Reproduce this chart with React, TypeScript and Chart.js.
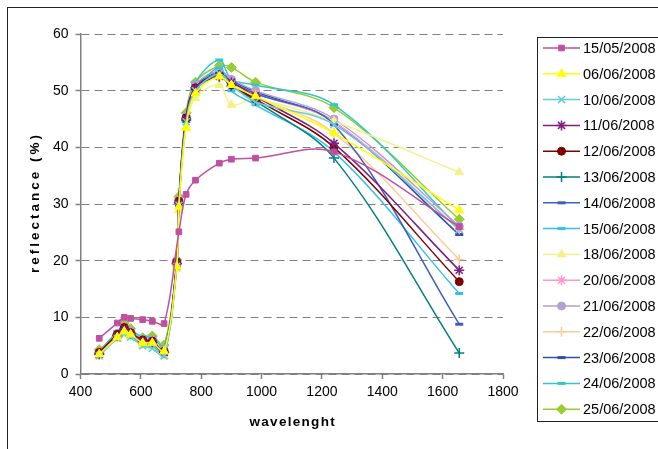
import React, { useEffect, useRef } from "react";
import { Chart, registerables } from "chart.js";
import { drawPoint } from "chart.js/helpers";

Chart.register(...registerables);

const wavelengths = [462, 522, 545, 566, 606, 638, 677, 719, 726, 750, 781, 860, 900, 980, 1240, 1655];

const labels = [
  "15/05/2008", "06/06/2008", "10/06/2008", "11/06/2008", "12/06/2008",
  "13/06/2008", "14/06/2008", "15/06/2008", "18/06/2008", "20/06/2008",
  "21/06/2008", "22/06/2008", "23/06/2008", "24/06/2008", "25/06/2008",
];

const xTitle = "wavelenght";
const yTitle = "reflectance (%)";

const s1505 = [6.3, 9.0, 10.0, 9.8, 9.6, 9.3, 8.9, null, 25.1, 31.7, 34.2, 37.2, 37.9, 38.1, 39.2, 26.0];
const s0606 = [3.5, 6.5, 7.5, 7.0, 5.5, 5.5, 4.0, 19.0, 29.5, 43.5, 49.5, 52.5, 51.0, 49.0, 42.5, 28.9];
const s1006 = [3.2, 6.3, 7.0, 6.5, 5.0, 4.5, 3.2, 19.0, 29.8, 44.5, 50.0, 53.0, 51.0, 48.0, 44.0, 25.5];
const s1106 = [3.5, 6.8, 8.0, 7.2, 5.8, 5.6, 3.8, 19.5, 30.2, 45.0, 50.5, 52.5, 51.5, 49.0, 40.7, 18.3];
const s1206 = [3.8, 7.0, 8.2, 7.3, 6.0, 5.8, 4.0, 19.8, 30.5, 45.2, 50.5, 52.8, 51.0, 48.5, 40.0, 16.3];
const s1306 = [3.6, 6.8, 7.8, 7.0, 5.6, 5.5, 3.8, 19.5, 30.2, 44.8, 50.2, 52.5, 50.8, 48.2, 38.1, 3.7];
const s1406 = [3.7, 7.0, 8.0, 7.2, 5.8, 5.6, 3.9, 19.6, 30.5, 45.0, 50.5, 53.0, 51.5, 49.5, 44.0, 8.8];
const s1506 = [3.5, 6.6, 7.5, 6.8, 5.3, 5.0, 3.5, 19.2, 30.0, 44.5, 49.8, 54.0, 50.0, 47.5, 39.2, 14.2];
const s1806 = [3.3, 6.2, 7.0, 6.5, 5.0, 4.8, 3.2, 18.5, 28.9, 43.4, 48.7, 51.0, 47.5, 48.5, 44.6, 35.6];
const s2006 = [3.6, 6.8, 7.8, 7.0, 5.6, 5.5, 3.8, 19.5, 30.0, 45.0, 50.5, 53.0, 51.5, 49.5, 44.5, 25.5];
const s2106 = [3.9, 7.2, 8.3, 7.5, 6.1, 6.0, 4.3, 20.0, 30.8, 45.5, 51.0, 53.5, 52.0, 50.0, 45.0, 26.1];
const s2206 = [3.4, 6.5, 7.5, 6.8, 5.3, 5.2, 3.6, 19.3, 30.0, 44.5, 50.0, 52.5, 51.0, 49.0, 42.5, 20.2];
const s2306 = [3.8, 7.1, 8.2, 7.4, 6.0, 5.8, 4.1, 19.8, 30.6, 45.3, 50.8, 53.2, 51.8, 49.8, 44.5, 24.6];
const s2406 = [4.0, 7.5, 8.5, 7.7, 6.6, 6.5, 4.8, 19.8, 30.8, 45.5, 51.5, 55.4, 52.0, 51.0, 47.5, 25.8];
const s2506 = [4.3, 7.0, 9.0, 8.0, 6.4, 6.7, 5.1, 20.1, 31.3, 46.1, 51.5, 54.4, 54.1, 51.5, 47.0, 27.3];

const seriesValues = [s1505, s0606, s1006, s1106, s1206, s1306, s1406, s1506, s1806, s2006, s2106, s2206, s2306, s2406, s2506];

const colors = [
  "#C04FA0", "#FFFF00", "#66CCDD", "#7F1F7F", "#800000",
  "#008080", "#3F5FBF", "#33C0F0", "#F5F08A", "#FF99CC",
  "#B3A0D0", "#FFCC99", "#3050A8", "#33C8C8", "#99CC33",
];

const markers = [
  "rect", "triangle", "crossRot", "star", "circle",
  "cross", "line", "line", "triangle", "star",
  "circle", "cross", "line", "line", "rectRot",
];

function markerStyle(m: string) {
  if (m === "line") return { radius: 4, borderWidth: 3 };
  if (m === "cross" || m === "crossRot" || m === "star") return { radius: 5, borderWidth: 1.5 };
  if (m === "triangle") return { radius: 5, borderWidth: 1 };
  if (m === "rectRot") return { radius: 5, borderWidth: 1 };
  return { radius: 4, borderWidth: 1 };
}

const FONT = "'Liberation Sans', Arial, sans-serif";

const framePlugin = {
  id: "framePlugin",
  afterDraw(chart: any) {
    const ctx = chart.ctx;
    const area = chart.chartArea;
    ctx.save();
    ctx.strokeStyle = "#222";
    ctx.lineWidth = 1;
    ctx.strokeRect(7.5, 7.5, 700, 500);
    // axis titles (letter-spaced)
    ctx.fillStyle = "#000";
    ctx.textAlign = "center";
    ctx.textBaseline = "middle";
    ctx.font = `bold 13.5px ${FONT}`;
    (ctx as any).letterSpacing = "1.3px";
    ctx.fillText(xTitle, (area.left + area.right) / 2 + 1, 422);
    ctx.save();
    ctx.translate(35, (area.top + area.bottom) / 2);
    ctx.rotate(-Math.PI / 2);
    (ctx as any).letterSpacing = "3px";
    ctx.fillText(yTitle, 1.5, 0);
    ctx.restore();
    (ctx as any).letterSpacing = "0px";
    // legend box
    ctx.strokeRect(537.5, 37.5, 200, 384);
    const x0 = 543, x1 = 580, xm = 561.5;
    chart.data.datasets.forEach((ds: any, i: number) => {
      const y = 48 + i * 25.8;
      ctx.strokeStyle = ds.borderColor;
      ctx.lineWidth = 1.5;
      ctx.setLineDash([]);
      ctx.beginPath();
      ctx.moveTo(x0, y);
      ctx.lineTo(x1, y);
      ctx.stroke();
      const ms = markerStyle(ds.pointStyle);
      ctx.fillStyle = ds.pointBackgroundColor;
      ctx.strokeStyle = ds.pointBorderColor;
      ctx.lineWidth = ms.borderWidth;
      drawPoint(ctx, { pointStyle: ds.pointStyle, rotation: 0, radius: ms.radius, borderWidth: ms.borderWidth }, xm, y);
      ctx.fillStyle = "#000";
      ctx.font = `14.5px ${FONT}`;
      ctx.textBaseline = "middle";
      ctx.textAlign = "left";
      ctx.fillText(ds.label, 583, y + 1);
    });
    ctx.restore();
  },
};

export default function App() {
  const ref = useRef<HTMLCanvasElement>(null);
  useEffect(() => {
    if (!ref.current) return;
    const datasets = seriesValues.map((vals, i) => {
      const ms = markerStyle(markers[i]);
      return {
        label: labels[i],
        data: wavelengths.map((w, j) => ({ x: w, y: vals[j] })).filter((p) => p.y !== null),
        borderColor: colors[i],
        backgroundColor: colors[i],
        pointBackgroundColor: colors[i],
        pointBorderColor: colors[i],
        pointStyle: markers[i],
        pointRadius: ms.radius,
        pointBorderWidth: ms.borderWidth,
        borderWidth: 1.5,
        tension: 0.35,
        fill: false,
      };
    });
    const chart = new Chart(ref.current, {
      type: "line",
      data: { datasets: datasets as any },
      options: {
        animation: false,
        responsive: false,
        maintainAspectRatio: false,
        layout: { padding: { left: 0, right: 155, top: 34, bottom: 0 } },
        plugins: { legend: { display: false }, tooltip: { enabled: false } },
        scales: {
          x: {
            type: "linear",
            min: 400,
            max: 1800,
            ticks: { stepSize: 200, color: "#000", font: { family: FONT, size: 14 }, padding: 5, callback: (v: any) => String(v) },
            grid: { drawOnChartArea: false, drawTicks: true, tickLength: 5, tickColor: "#808080", tickWidth: 1.5 },
            border: { color: "#808080", width: 1.5 },
            title: { display: false },
            afterFit: (s: any) => { s.height = 75; },
          },
          y: {
            min: 0,
            max: 60,
            ticks: { stepSize: 10, color: "#000", font: { family: FONT, size: 14 }, padding: 7 },
            grid: { color: "#808080", lineWidth: 1, tickLength: 5, tickColor: "#808080", tickWidth: 1.5 },
            border: { color: "#808080", width: 1.5, dash: [8, 5] },
            title: { display: false },
            afterFit: (s: any) => { s.width = 80.5; },
          },
        },
      } as any,
      plugins: [framePlugin],
    });
    return () => chart.destroy();
  }, []);
  return (
    <div style={{ position: "fixed", left: 0, top: 0, width: 658, height: 449, background: "#fff" }}>
      <canvas ref={ref} width={658} height={449} />
    </div>
  );
}
